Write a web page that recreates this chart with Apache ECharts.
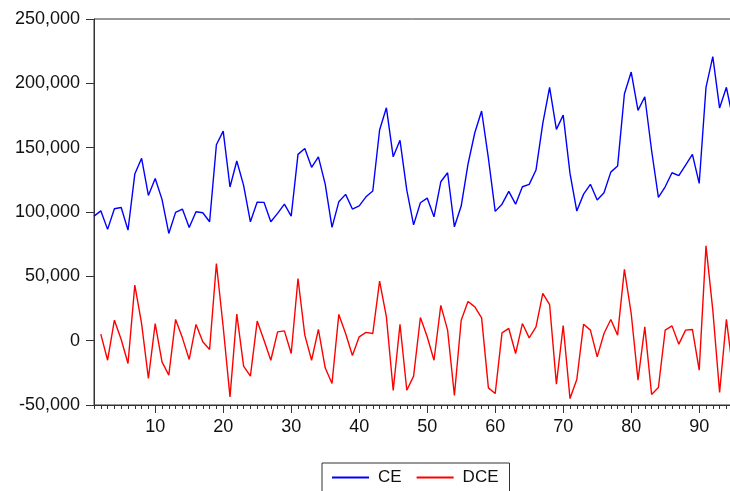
<!DOCTYPE html>
<html>
<head>
<meta charset="utf-8">
<script src="https://cdn.jsdelivr.net/npm/echarts@6/dist/echarts.min.js"></script>
<style>
html,body{margin:0;padding:0;background:#fff;}
#chart{width:730px;height:491px;}
</style>
</head>
<body>
<div id="chart"></div>
<script>
// observation index 1..96 (axis), data 1..95
const categories = [];
for (let i = 1; i <= 96; i++) categories.push(String(i));

const ceValues = [
  96800, 100900, 86500, 102500, 103500, 85900, 129500, 141700, 112900, 126100,
  109800, 83300, 99700, 102300, 88000, 100200, 99400, 92400, 152300, 162900,
  119400, 139600, 120700, 92400, 107700, 107500, 92400, 98900, 106100, 96800,
  144800, 149400, 134700, 142900, 121700, 88000, 107900, 113700, 102300, 104800,
  111800, 116300, 163700, 181000, 142900, 155700, 117000, 90000, 107200, 110800,
  96300, 123500, 130500, 88500, 104600, 137200, 161600, 178500, 141800, 100500,
  106100, 116000, 106100, 119600, 121500, 132600, 168900, 196900, 164200, 175300,
  130000, 100700, 113900, 121500, 109300, 114900, 131000, 135700, 191700, 208800,
  179000, 189600, 147800, 111400, 119600, 130500, 128200, 136500, 144800, 122200,
  196900, 220700, 180800, 196900, 171000
];

// DCE starts at observation 2
const dceValues = [
  null, 5100, -15200, 15900, 900, -17700, 43200, 13300, -29400, 13300,
  -16500, -26800, 16500, 2200, -14600, 12600, -900, -6800, 60000, 10600,
  -43700, 20600, -19800, -27600, 15200, 400, -15200, 6800, 7600, -10000,
  48300, 4300, -15200, 8700, -21100, -33300, 20400, 5600, -11500, 3000,
  6400, 5600, 46300, 18500, -38700, 12800, -38500, -27600, 18000, 3000,
  -15200, 27400, 8200, -42600, 15900, 30500, 26300, 17700, -36700, -41100,
  6100, 9500, -10000, 13300, 2200, 10700, 36700, 28100, -33800, 11800,
  -45000, -30200, 12800, 8200, -12600, 5600, 16500, 4300, 55400, 21100,
  -30700, 10700, -41800, -36400, 8200, 11500, -2700, 8200, 8700, -22900,
  73700, 23700, -40300, 16500, -26000
];

const yMin = -50000, yMax = 250000, yStep = 50000;
const seriesNames = ['CE', 'DCE'];

const FONT = 'Liberation Sans, Arial, sans-serif';
const AX = '#333333';

const chart = echarts.init(document.getElementById('chart'), null, {renderer: 'canvas'});
chart.setOption({
  animation: false,
  backgroundColor: '#ffffff',
  grid: {
    left: 94, top: 19, width: 646, height: 386,
    outerBoundsMode: 'none', containLabel: false,
    show: true, borderColor: AX, borderWidth: 1, backgroundColor: 'transparent'
  },
  legend: {
    data: seriesNames,
    left: 322, top: 463,
    orient: 'horizontal',
    padding: [6, 11, 10, 10],
    itemGap: 15,
    itemWidth: 37, itemHeight: 2,
    icon: 'rect',
    borderColor: AX, borderWidth: 1,
    textStyle: {fontFamily: FONT, fontSize: 17, color: '#111', padding: [0, 0, 0, 4]}
  },
  xAxis: [
    {
      type: 'category', data: categories, boundaryGap: false,
      axisLine: {show: true, onZero: false, lineStyle: {color: AX, width: 1}},
      axisTick: {show: true, length: 4, interval: 0, lineStyle: {color: AX}},
      axisLabel: {show: false},
      splitLine: {show: false}
    },
    {
      type: 'category', data: categories, boundaryGap: false, position: 'bottom',
      axisLine: {show: false, onZero: false},
      axisTick: {show: true, length: 8, interval: function (idx, v) { return Number(v) % 10 === 0; }, lineStyle: {color: AX}},
      axisLabel: {
        show: true, margin: 13, fontFamily: FONT, fontSize: 18, color: '#111',
        interval: function (idx, v) { return Number(v) % 10 === 0; }
      },
      splitLine: {show: false}
    }
  ],
  yAxis: {
    type: 'value', min: yMin, max: yMax, interval: yStep,
    axisLine: {show: true, onZero: false, lineStyle: {color: AX, width: 1}},
    axisTick: {show: true, length: 8, lineStyle: {color: AX}},
    axisLabel: {
      margin: 14, fontFamily: FONT, fontSize: 18, color: '#111',
      formatter: function (v) { return v.toLocaleString('en-US'); }
    },
    splitLine: {show: false}
  },
  series: [
    {
      name: seriesNames[0], type: 'line', data: ceValues, xAxisIndex: 0,
      showSymbol: false, symbol: 'none',
      lineStyle: {color: '#0000ff', width: 1.4}, itemStyle: {color: '#0000ff'}
    },
    {
      name: seriesNames[1], type: 'line', data: dceValues, xAxisIndex: 0,
      showSymbol: false, symbol: 'none', connectNulls: false,
      lineStyle: {color: '#ff0000', width: 1.4}, itemStyle: {color: '#ff0000'}
    }
  ]
});
</script>
</body>
</html>
